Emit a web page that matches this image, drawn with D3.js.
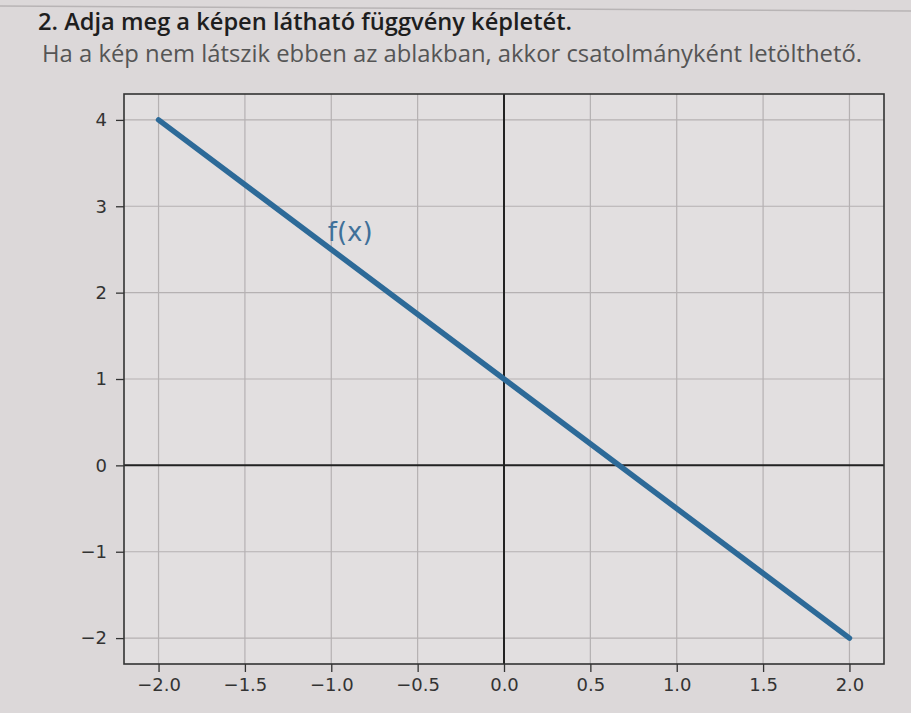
<!DOCTYPE html>
<html><head><meta charset="utf-8">
<script src="https://cdn.jsdelivr.net/npm/d3@7"></script>
<style>body{margin:0;background:#dcd8d9;}svg{display:block;}</style>
</head><body>
<svg id="c" width="911" height="713"></svg>
<script>
const xTicks = [-2.0, -1.5, -1.0, -0.5, 0.0, 0.5, 1.0, 1.5, 2.0];
const yTicks = [-2, -1, 0, 1, 2, 3, 4];
const lineX = [-2, 2];
const lineY = [4, -2];
const title = "2. Adja meg a képen látható függvény képletét.";
const subtitle = "Ha a kép nem látszik ebben az ablakban, akkor csatolmányként letölthető.";
const fLabel = "f(x)";

const svg = d3.select("#c");
const x = d3.scaleLinear().domain([-2.2, 2.2]).range([124, 884]);
const y = d3.scaleLinear().domain([-2.3, 4.3]).range([664, 94]);

svg.append("rect").attr("width",911).attr("height",713).attr("fill","#dcd8d9");
svg.append("line").attr("x1",0).attr("x2",911).attr("y1",6).attr("y2",11).attr("stroke","#b8b4b5").attr("stroke-width",1.5);

svg.append("text").attr("x",38).attr("y",30).attr("font-family","Open Sans").attr("font-weight",600)
  .attr("font-size",23.5).attr("fill","#1e1e1e").attr("textLength",534).attr("lengthAdjust","spacingAndGlyphs").text(title);
svg.append("text").attr("x",42).attr("y",62).attr("font-family","Open Sans")
  .attr("font-size",23).attr("fill","#555").attr("textLength",820).attr("lengthAdjust","spacingAndGlyphs").text(subtitle);

// plot area
svg.append("rect").attr("x",x.range()[0]).attr("y",y.range()[1])
  .attr("width",x.range()[1]-x.range()[0]).attr("height",y.range()[0]-y.range()[1]).attr("fill","#e2dfe0");

const g = svg.append("g");
// grid
g.selectAll(".gx").data(xTicks).join("line").attr("x1",d=>x(d)).attr("x2",d=>x(d))
  .attr("y1",y.range()[1]).attr("y2",y.range()[0]).attr("stroke","#b5b1b2").attr("stroke-width",1.2);
g.selectAll(".gy").data(yTicks).join("line").attr("y1",d=>y(d)).attr("y2",d=>y(d))
  .attr("x1",x.range()[0]).attr("x2",x.range()[1]).attr("stroke","#b5b1b2").attr("stroke-width",1.2);

// zero axes
g.append("line").attr("x1",x(0)).attr("x2",x(0)).attr("y1",y.range()[1]).attr("y2",y.range()[0]).attr("stroke","#222").attr("stroke-width",2);
g.append("line").attr("y1",y(0)).attr("y2",y(0)).attr("x1",x.range()[0]).attr("x2",x.range()[1]).attr("stroke","#222").attr("stroke-width",2);

// axes
const xAxis = svg.append("g").attr("transform",`translate(0,${y.range()[0]})`)
  .call(d3.axisBottom(x).tickValues(xTicks).tickSize(8).tickPadding(6).tickFormat(d=>d.toFixed(1).replace("-","\u2212")));
const yAxis = svg.append("g").attr("transform",`translate(${x.range()[0]},0)`)
  .call(d3.axisLeft(y).tickValues(yTicks).tickSize(8).tickPadding(9).tickFormat(d=>String(d).replace("-","\u2212")));
[xAxis,yAxis].forEach(a=>{
  a.selectAll("text").attr("font-family","DejaVu Sans").attr("font-size",18).attr("fill","#333");
  a.selectAll("line").attr("stroke","#333").attr("stroke-width",1.3);
  a.select(".domain").remove();
});
// frame
svg.append("rect").attr("x",x.range()[0]).attr("y",y.range()[1])
  .attr("width",x.range()[1]-x.range()[0]).attr("height",y.range()[0]-y.range()[1])
  .attr("fill","none").attr("stroke","#333").attr("stroke-width",1.6);

// data line
const pts = lineX.map((v,i)=>[v,lineY[i]]);
svg.append("path").datum(pts).attr("d",d3.line().x(d=>x(d[0])).y(d=>y(d[1])))
  .attr("stroke","#2d6a98").attr("stroke-width",5.5).attr("fill","none").attr("stroke-linecap","round");

svg.append("text").attr("x",x(-1.02)).attr("y",y(2.6)).attr("font-family","DejaVu Sans")
  .attr("font-size",26).attr("fill","#3f7099").text(fLabel);
</script>
</body></html>
